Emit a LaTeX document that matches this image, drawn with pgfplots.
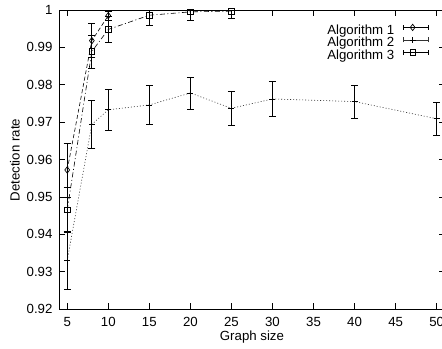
\documentclass[border=0pt]{standalone}
\usepackage{pgfplots}
\pgfplotsset{compat=1.18}
\usepackage{fontspec}
\setmainfont{Liberation Sans}
\begin{document}
\begin{tikzpicture}
\begin{axis}[
  name=ax,
  scale only axis,
  width=385.9bp, height=299bp,
  xmin=4, xmax=51, ymin=0.92, ymax=1,
  xtick={5,10,...,50},
  ytick={0.92,0.93,...,1.001},
  tick align=inside,
  major tick length=6bp,
  tick style={line width=0.7bp, black},
  axis line style={line width=0.8bp},
  /pgf/number format/assume math mode=true,
  yticklabel style={/pgf/number format/fixed, /pgf/number format/precision=2, font=\fontsize{13.3}{15}\selectfont, xshift=-3bp},
  xticklabel style={font=\fontsize{13.3}{15}\selectfont, yshift=-5bp},
  xlabel={Graph size},
  ylabel={Detection rate},
  label style={font=\fontsize{13.3}{15}\selectfont},
  xlabel style={at={(axis description cs:0.5,-0.0936)}, anchor=center},
  ylabel style={at={(axis description cs:-0.114,0.498)}, anchor=center},
  legend plot pos=right,
  legend cell align=right,
  legend style={draw=none, fill=none, at={(axis description cs:0.9588,0.9525)}, anchor=north east,
    font=\fontsize{13.3}{15}\selectfont, inner sep=0pt, outer sep=0pt, row sep=0pt,
    /tikz/column 1/.style={column sep=9bp},
    nodes={inner sep=0pt, outer sep=0pt, text height=0.72em, text depth=0.26em}},
  legend image code/.code={
    \draw[solid,line width=0.7bp,mark=none] (0bp,4.7bp) -- (25bp,4.7bp);
    \draw[solid,line width=0.7bp,mark=none] (0bp,2.2bp) -- (0bp,7.2bp) (25bp,2.2bp) -- (25bp,7.2bp);
    \path[solid] plot coordinates {(9bp,4.7bp)};
  },
  error bars/y dir=both,
  error bars/y explicit,
  error bars/error mark options={rotate=90, mark size=3.5bp, line width=0.7bp, solid, black},
  error bars/error bar style={line width=0.7bp, solid, black},
]
\addplot[black, line width=0.6bp, dash pattern=on 4bp off 2.5bp, mark=diamond, mark size=3.2bp, mark options={solid, line width=0.7bp}]
  table[x=x, y=y, y error=e] {
x y e
5 0.9572 0.0072
8 0.9918 0.0046
10 0.9985 0.0012
};
\addlegendentry{Algorithm 1}
\addplot[black!80, line width=0.6bp, dash pattern=on 1bp off 2bp, mark=+, mark size=3bp, mark options={solid, black, line width=0.7bp}]
  table[x=x, y=y, y error=e] {
x y e
5 0.9330 0.0077
8 0.9694 0.0064
10 0.9733 0.0055
15 0.9746 0.0052
20 0.9778 0.0043
25 0.9737 0.0045
30 0.9762 0.0046
40 0.9755 0.0044
50 0.9709 0.0045
};
\addlegendentry{Algorithm 2}
\addplot[black, line width=0.6bp, dash pattern=on 5bp off 2.5bp on 1bp off 2.5bp, mark=square, mark size=2.8bp, mark options={solid, line width=0.7bp}]
  table[x=x, y=y, y error=e] {
x y e
5 0.9465 0.0060
8 0.9889 0.0044
10 0.9948 0.0034
15 0.9986 0.0026
20 0.9995 0.0024
25 0.9997 0.0020
};
\addlegendentry{Algorithm 3}
\end{axis}
\pgfresetboundingbox
\path[use as bounding box] (ax.south west) ++(-59bp,-40bp) rectangle ++(442bp,349bp);
\end{tikzpicture}
\end{document}
